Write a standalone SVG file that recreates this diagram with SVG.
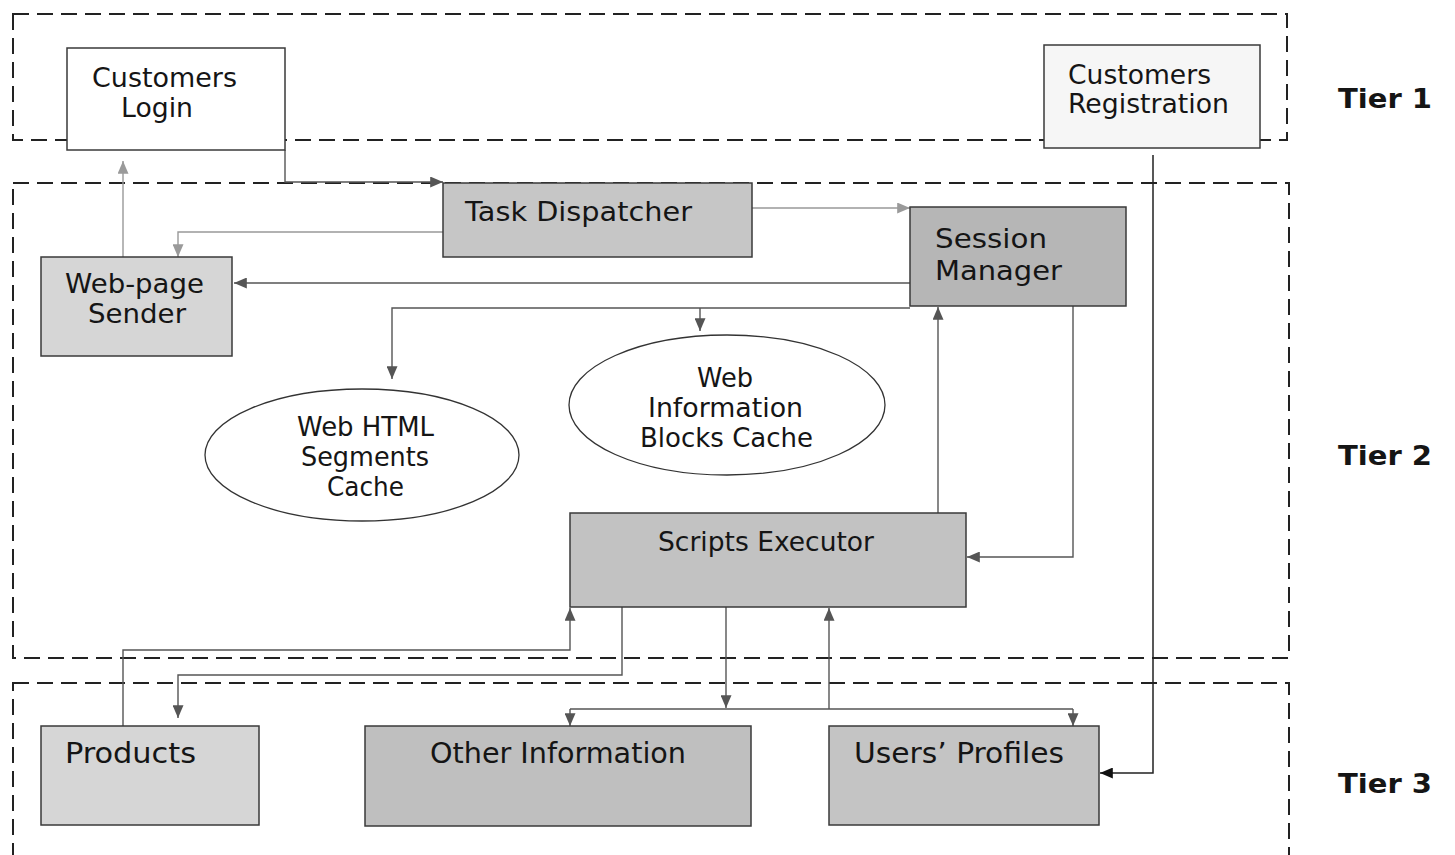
<svg xmlns="http://www.w3.org/2000/svg" width="1455" height="855" viewBox="0 0 1455 855">
  <style>
    .tier { fill: none; stroke: #222; stroke-width: 2; stroke-dasharray: 16 8; }
    .box { stroke: #3a3a3a; stroke-width: 1.5; }
    .oval { fill: #fff; stroke: #333; stroke-width: 1.3; }
    .lbl { font-family: "DejaVu Sans", Verdana, sans-serif; font-size: 27px; fill: #151515; }
    .cond { font-family: "DejaVu Sans Condensed", "DejaVu Sans", sans-serif; font-size: 28px; fill: #151515; }
    .tierlbl { font-family: "DejaVu Sans", Verdana, sans-serif; font-weight: bold; font-size: 27px; fill: #151515; }
    .wire { fill: none; stroke: #555; stroke-width: 1.4; }
    .wire-lt { fill: none; stroke: #999; stroke-width: 1.4; }
    .wire-dk { fill: none; stroke: #222; stroke-width: 1.5; }
  </style>
  <defs>
    <marker id="arr" viewBox="0 0 14 12" refX="14" refY="6" markerWidth="13" markerHeight="11" markerUnits="userSpaceOnUse" orient="auto">
      <path d="M0,0 L14,6 L0,12 Z" fill="#555"/>
    </marker>
    <marker id="arr-lt" viewBox="0 0 14 12" refX="14" refY="6" markerWidth="13" markerHeight="11" markerUnits="userSpaceOnUse" orient="auto">
      <path d="M0,0 L14,6 L0,12 Z" fill="#9a9a9a"/>
    </marker>
    <marker id="arr-dk" viewBox="0 0 14 12" refX="14" refY="6" markerWidth="13" markerHeight="11" markerUnits="userSpaceOnUse" orient="auto">
      <path d="M0,0 L14,6 L0,12 Z" fill="#111"/>
    </marker>
  </defs>

  <rect width="1455" height="855" fill="#fff"/>

  <!-- tier frames -->
  <g id="tiers">
    <rect class="tier" x="13" y="14" width="1274" height="126"/>
    <rect class="tier" x="13" y="183" width="1276" height="475"/>
    <rect class="tier" x="13" y="683" width="1276" height="180"/>
    <text class="tierlbl" x="1338" y="108" textLength="94" lengthAdjust="spacingAndGlyphs">Tier 1</text>
    <text class="tierlbl" x="1338" y="465" textLength="94" lengthAdjust="spacingAndGlyphs">Tier 2</text>
    <text class="tierlbl" x="1338" y="793" textLength="94" lengthAdjust="spacingAndGlyphs">Tier 3</text>
  </g>

  <!-- connectors -->
  <g id="connectors">
    <path class="wire" d="M285,150 V182 H443" marker-end="url(#arr)"/>
    <path class="wire-lt" d="M123,257 V161" marker-end="url(#arr-lt)"/>
    <path class="wire-lt" d="M443,232 H178 V257" marker-end="url(#arr-lt)"/>
    <path class="wire-lt" d="M752,208 H910" marker-end="url(#arr-lt)"/>
    <path class="wire" d="M910,283 H234" marker-end="url(#arr)"/>
    <path class="wire" d="M910,308 H392 V379" marker-end="url(#arr)"/>
    <path class="wire" d="M700,308 V331" marker-end="url(#arr)"/>
    <path class="wire" d="M938,513 V307" marker-end="url(#arr)"/>
    <path class="wire" d="M1073,306 V557 H967" marker-end="url(#arr)"/>
    <path class="wire-dk" d="M1153,155 V773 H1100" marker-end="url(#arr-dk)"/>
    <path class="wire" d="M123,726 V650 H570 V608" marker-end="url(#arr)"/>
    <path class="wire" d="M622,607 V675 H178 V718" marker-end="url(#arr)"/>
    <path class="wire" d="M726,607 V708" marker-end="url(#arr)"/>
    <path class="wire" d="M570,709 H1073"/>
    <path class="wire" d="M570,709 V726" marker-end="url(#arr)"/>
    <path class="wire" d="M1073,709 V726" marker-end="url(#arr)"/>
    <path class="wire" d="M829,709 V608" marker-end="url(#arr)"/>
  </g>

  <!-- tier 1 -->
  <g id="customers-login">
    <rect class="box" x="67" y="48" width="218" height="102" fill="#fff"/>
    <text class="lbl" x="92" y="87" textLength="145" lengthAdjust="spacingAndGlyphs">Customers</text>
    <text class="lbl" x="121" y="117" textLength="72" lengthAdjust="spacingAndGlyphs">Login</text>
  </g>
  <g id="customers-registration">
    <rect class="box" x="1044" y="45" width="216" height="103" fill="#f6f6f6"/>
    <text class="lbl" x="1068" y="84" textLength="143" lengthAdjust="spacingAndGlyphs">Customers</text>
    <text class="lbl" x="1068" y="113" textLength="161" lengthAdjust="spacingAndGlyphs">Registration</text>
  </g>

  <!-- tier 2 -->
  <g id="task-dispatcher">
    <rect class="box" x="443" y="183" width="309" height="74" fill="#c6c6c6"/>
    <text class="lbl" x="465" y="221" textLength="227" lengthAdjust="spacingAndGlyphs">Task Dispatcher</text>
  </g>
  <g id="session-manager">
    <rect class="box" x="910" y="207" width="216" height="99" fill="#b6b6b6"/>
    <text class="lbl" x="935" y="248" textLength="112" lengthAdjust="spacingAndGlyphs">Session</text>
    <text class="lbl" x="935" y="280" textLength="127" lengthAdjust="spacingAndGlyphs">Manager</text>
  </g>
  <g id="web-page-sender">
    <rect class="box" x="41" y="257" width="191" height="99" fill="#d6d6d6" stroke="#888"/>
    <text class="lbl" x="65" y="293" textLength="139" lengthAdjust="spacingAndGlyphs">Web-page</text>
    <text class="lbl" x="88" y="323" textLength="98" lengthAdjust="spacingAndGlyphs">Sender</text>
  </g>
  <g id="web-html-segments-cache">
    <ellipse class="oval" cx="362" cy="455" rx="157" ry="66"/>
    <text class="lbl" x="297" y="436" textLength="137" lengthAdjust="spacingAndGlyphs">Web HTML</text>
    <text class="lbl" x="301" y="466" textLength="128" lengthAdjust="spacingAndGlyphs">Segments</text>
    <text class="lbl" x="327" y="496" textLength="77" lengthAdjust="spacingAndGlyphs">Cache</text>
  </g>
  <g id="web-information-blocks-cache">
    <ellipse class="oval" cx="727" cy="405" rx="158" ry="70"/>
    <text class="lbl" x="697" y="387" textLength="56" lengthAdjust="spacingAndGlyphs">Web</text>
    <text class="lbl" x="648" y="417" textLength="155" lengthAdjust="spacingAndGlyphs">Information</text>
    <text class="lbl" x="640" y="447" textLength="173" lengthAdjust="spacingAndGlyphs">Blocks Cache</text>
  </g>
  <g id="scripts-executor">
    <rect class="box" x="570" y="513" width="396" height="94" fill="#c2c2c2"/>
    <text class="lbl" x="658" y="551" textLength="216" lengthAdjust="spacingAndGlyphs">Scripts Executor</text>
  </g>

  <!-- tier 3 -->
  <g id="products">
    <rect class="box" x="41" y="726" width="218" height="99" fill="#d6d6d6"/>
    <text class="cond" x="65" y="763" textLength="131" lengthAdjust="spacingAndGlyphs">Products</text>
  </g>
  <g id="other-information">
    <rect class="box" x="365" y="726" width="386" height="100" fill="#bfbfbf"/>
    <text class="cond" x="430" y="763" textLength="256" lengthAdjust="spacingAndGlyphs">Other Information</text>
  </g>
  <g id="users-profiles">
    <rect class="box" x="829" y="726" width="270" height="99" fill="#c4c4c4"/>
    <text class="cond" x="854" y="763" textLength="210" lengthAdjust="spacingAndGlyphs">Users’ Profiles</text>
  </g>
</svg>
